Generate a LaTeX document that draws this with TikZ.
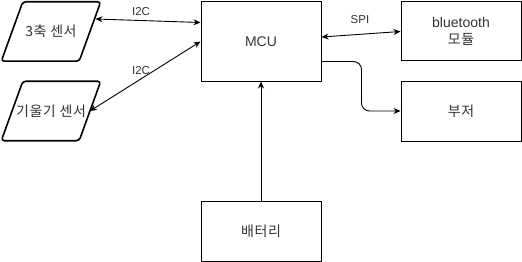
\documentclass[tikz,border=0pt]{standalone}
\usepackage{fontspec}
\setmainfont{Liberation Sans}
\newfontfamily\kr[LetterSpace=4]{Noto Sans CJK KR}
\usetikzlibrary{positioning, arrows.meta, shapes.geometric}

\begin{document}
\begin{tikzpicture}[
    x=1pt, y=-1pt,
    blk/.style={rectangle, draw, line width=1pt, minimum width=120pt, align=center, font=\fontsize{14}{16.5}\selectfont, text=black!80},
    krblk/.style={blk, font=\kr\fontsize{14}{16.5}\selectfont},
    sensor/.style={rectangle, minimum width=77.5pt, minimum height=59pt, inner sep=0pt, font=\kr\fontsize{14}{16.5}\selectfont, text=black!80},
    slant/.style={draw, line width=1.6pt, rounded corners=3pt},
    arr/.style={-{Stealth[length=7pt, width=6pt]}, line width=0.9pt},
    biarr/.style={{Stealth[length=7pt, width=6pt]}-{Stealth[length=7pt, width=6pt]}, line width=0.9pt},
    lbl/.style={font=\fontsize{11.5}{13}\selectfont, text=black!80, inner sep=1pt}
]
\useasboundingbox (0,0) rectangle (522,262);

\node[blk, minimum height=79pt] (mcu) at (261,41.5) {MCU};
\node[blk, minimum height=59pt] (bt) at (461,31.5) {bluetooth\\{\kr 모듈}};
\node[krblk, minimum height=60pt] (buz) at (461,111) {부저};
\node[krblk, minimum height=60pt] (bat) at (261,231) {배터리};
\node[sensor] (acc) at (51,31.5) {3축 센서};
\node[sensor] (tilt) at (51,111) {기울기 센서};

% slanted sensor outlines
\foreach \s in {acc, tilt}
  \draw[slant] ([xshift=10.75pt]\s.north west) -- ([xshift=10.75pt]\s.north east)
    -- ([xshift=-10.75pt]\s.south east) -- ([xshift=-10.75pt]\s.south west) -- cycle;

\draw[biarr] ([xshift=5.5pt, yshift=12.5pt]acc.east) -- ([yshift=19pt]mcu.west);
\draw[biarr] (tilt.east) -- (mcu.west);
\draw[biarr] ([yshift=4.5pt]mcu.east) -- (bt.west);
\draw[arr, rounded corners=8pt] ([yshift=-20pt]mcu.east) -- ++(40,0) |- (buz.west);
\draw[arr] (bat) -- (mcu);

\node[lbl] (i2ca) at (141,12) {I2C};
\node[lbl] (i2cb) at (141,71) {I2C};
\node[lbl] (spi) at (360,20) {SPI};
\end{tikzpicture}
\end{document}
